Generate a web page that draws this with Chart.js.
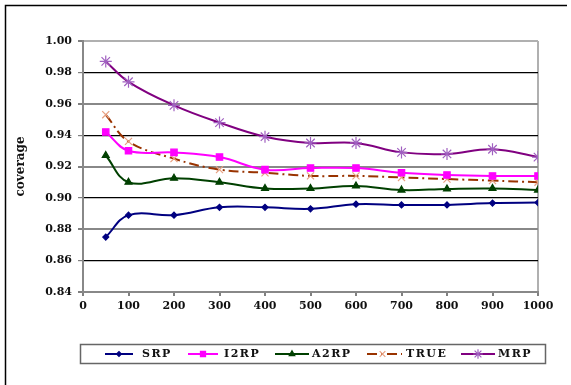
<!DOCTYPE html>
<html>
<head>
<meta charset="utf-8">
<script src="https://cdn.jsdelivr.net/npm/chart.js@4/dist/chart.umd.min.js"></script>
<style>
  html, body { margin: 0; padding: 0; background: #fff; }
  #wrap { width: 571px; height: 385px; position: relative; }
</style>
</head>
<body>
<div id="wrap"><canvas id="grafico" width="571" height="385"></canvas></div>
<script>
// dados
const tamanhos = [50, 100, 200, 300, 400, 500, 600, 700, 800, 900, 1000];
const srp  = [0.875, 0.889, 0.889, 0.894, 0.894, 0.893, 0.896, 0.8955, 0.8955, 0.8967, 0.897];
const i2rp = [0.942, 0.930, 0.929, 0.926, 0.918, 0.919, 0.919, 0.916, 0.9146, 0.914, 0.914];
const a2rp = [0.927, 0.910, 0.9125, 0.910, 0.906, 0.906, 0.9076, 0.905, 0.9057, 0.906, 0.905];
const verdadeiro = [0.953, 0.936, 0.925, 0.918, 0.916, 0.914, 0.914, 0.913, 0.912, 0.911, 0.910];
const mrp  = [0.987, 0.974, 0.959, 0.948, 0.939, 0.935, 0.935, 0.929, 0.928, 0.931, 0.926];
const nomes = ['SRP', 'I2RP', 'A2RP', 'TRUE', 'MRP'];

const fonte = '"DejaVu Serif", "Liberation Serif", serif';

function serie(nome, valores, cor, corPonto, estilo, raio, tracejado) {
  return {
    label: nome,
    data: tamanhos.map((x, i) => ({ x: x, y: valores[i] })),
    borderColor: cor,
    backgroundColor: corPonto,
    pointBorderColor: corPonto,
    pointBackgroundColor: corPonto,
    pointStyle: estilo,
    pointRadius: raio,
    pointBorderWidth: 1.2,
    borderWidth: 2,
    borderDash: tracejado || [],
    tension: 0.4,
    fill: false
  };
}

// moldura e legenda desenhadas à mão
const molduraLegenda = {
  id: 'molduraLegenda',
  afterDraw(chart) {
    const ctx = chart.ctx;
    ctx.save();
    ctx.strokeStyle = '#000';
    ctx.lineWidth = 1.5;
    ctx.beginPath();
    ctx.moveTo(5.5, 385);
    ctx.lineTo(5.5, 5.5);
    ctx.lineTo(567, 5.5);
    ctx.stroke();

    // caixa da legenda
    ctx.strokeStyle = '#666';
    ctx.lineWidth = 1.5;
    ctx.strokeRect(80.5, 344.5, 465, 19);

    const posicoes = [[105, 133, 142], [188, 218, 224], [275, 309, 312], [367, 402, 406], [461, 495, 498]];
    chart.data.datasets.forEach((ds, i) => {
      const [x0, x1, xt] = posicoes[i];
      const y = 354;
      ctx.strokeStyle = ds.borderColor;
      ctx.lineWidth = 2;
      ctx.setLineDash(ds.borderDash);
      ctx.beginPath();
      ctx.moveTo(x0, y);
      ctx.lineTo(x1, y);
      ctx.stroke();
      ctx.setLineDash([]);
      ctx.fillStyle = ds.pointBackgroundColor;
      ctx.strokeStyle = ds.pointBorderColor;
      ctx.lineWidth = 1.2;
      Chart.helpers.drawPoint(ctx, { pointStyle: ds.pointStyle, radius: ds.pointRadius * 0.8, borderWidth: 1.2 }, (x0 + x1) / 2 - (i === 3 ? 2 : 0), y);
      ctx.fillStyle = '#111';
      ctx.font = 'bold 11px ' + fonte;
      ctx.textBaseline = 'middle';
      ctx.letterSpacing = '1.5px';
      ctx.fillText(ds.label, xt, y);
    });
    ctx.restore();
  }
};

const ctx = document.getElementById('grafico').getContext('2d');
new Chart(ctx, {
  type: 'line',
  data: {
    datasets: [
      serie(nomes[0], srp, '#000080', '#000080', 'rectRot', 3),
      serie(nomes[1], i2rp, '#FF00FF', '#FF00FF', 'rect', 4.5),
      serie(nomes[2], a2rp, '#004000', '#004000', 'triangle', 4),
      serie(nomes[3], verdadeiro, '#993300', '#E8A080', 'crossRot', 5, [10, 4, 2, 4]),
      serie(nomes[4], mrp, '#800080', '#A060C0', 'star', 6)
    ]
  },
  options: {
    responsive: false,
    animation: false,
    layout: { padding: { left: 14, top: 41, right: 33, bottom: 63 } },
    plugins: {
      legend: { display: false },
      tooltip: { enabled: false }
    },
    scales: {
      x: {
        type: 'linear',
        min: 0,
        max: 1000,
        afterFit: s => { s.height = 30; },
        ticks: {
          stepSize: 100,
          color: '#111',
          padding: 4,
          callback: v => String(v),
          font: { family: fonte, size: 11, weight: 'bold' }
        },
        grid: {
          color: c => (c.tick && c.tick.value === 1000) ? '#b0b0b0' : 'rgba(0,0,0,0)',
          lineWidth: 2,
          tickColor: '#808080',
          tickLength: 4,
          drawOnChartArea: true
        },
        border: { color: '#888', width: 2 }
      },
      y: {
        min: 0.84,
        max: 1.00,
        afterFit: s => { s.width = 69; },
        title: {
          display: true,
          text: 'coverage',
          color: '#111',
          padding: { top: 0, bottom: 4 },
          font: { family: fonte, size: 12, weight: 'bold' }
        },
        ticks: {
          stepSize: 0.02,
          color: '#111',
          padding: 6,
          callback: v => v.toFixed(2),
          font: { family: fonte, size: 11, weight: 'bold' }
        },
        grid: {
          color: c => {
            if (!c.tick) return '#000';
            const k = Math.round((c.tick.value - 0.84) / 0.02);
            if (k === 8) return '#b0b0b0';
            return k % 2 === 1 ? '#000' : '#888';
          },
          lineWidth: c => {
            if (!c.tick) return 1;
            const k = Math.round((c.tick.value - 0.84) / 0.02);
            return k % 2 === 1 ? 1.2 : 2;
          },
          tickColor: '#808080',
          tickLength: 5
        },
        border: { color: '#888', width: 2 }
      }
    }
  },
  plugins: [molduraLegenda]
});
</script>
</body>
</html>
